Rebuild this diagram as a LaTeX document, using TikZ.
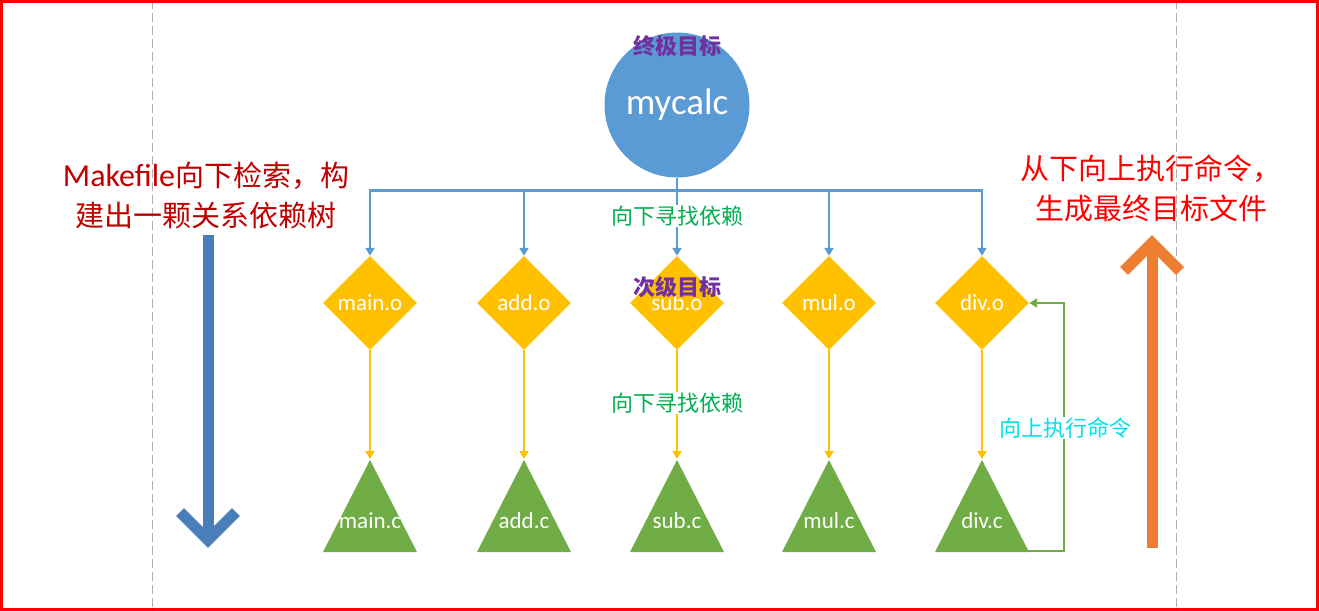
\documentclass[tikz,border=0pt]{standalone}
\usepackage{fontspec}
\setmainfont{Carlito}
\newfontfamily\cjk{Noto Sans CJK SC}
\usetikzlibrary{arrows.meta,shapes.geometric}
\definecolor{GoalBlue}{RGB}{91,155,213}
\definecolor{ArrowBlue}{RGB}{74,126,187}
\definecolor{ObjGold}{RGB}{255,192,0}
\definecolor{SrcGreen}{RGB}{112,173,71}
\definecolor{TextGreen}{RGB}{0,176,80}
\definecolor{TagPurple}{RGB}{112,48,160}
\definecolor{DarkRed}{RGB}{192,0,0}
\definecolor{CmdCyan}{RGB}{0,225,235}
\definecolor{UpOrange}{RGB}{237,125,49}
\definecolor{GuideGray}{RGB}{175,175,175}
\tikzset{
  goal/.style={circle,fill=GoalBlue,text=white,minimum size=145pt,
    inner sep=0pt,font=\fontsize{37pt}{40pt}\selectfont},
  target/.style={diamond,aspect=1,fill=ObjGold,text=white,minimum width=94pt,
    minimum height=94pt,inner sep=0pt,font=\fontsize{23pt}{26pt}\selectfont},
  source/.style={text=white,inner sep=0pt,font=\fontsize{23pt}{26pt}\selectfont},
  tag/.style={text=TagPurple,inner sep=0pt,font=\cjk\bfseries\fontsize{22pt}{26pt}\selectfont},
  note/.style={fill=white,inner sep=1pt,font=\cjk\fontsize{22pt}{26pt}\selectfont},
  side/.style={align=center,inner sep=0pt,font=\cjk\fontsize{29pt}{40pt}\selectfont},
  link/.style={GoalBlue,line width=2.7pt,-{Triangle[width=9pt,length=8pt]}},
  build/.style={ObjGold,line width=2.4pt,-{Triangle[width=9pt,length=8pt]}},
  back/.style={SrcGreen,line width=2pt,-{Triangle[width=9pt,length=8pt]}},
  bigarrow/.style={line width=11pt,line join=miter}
}
\begin{document}
\begin{tikzpicture}[x=1pt,y=-1pt]
  \useasboundingbox (0,0) rectangle (1319,611);
  % guides and frame
  \draw[GuideGray,dash pattern=on 9pt off 4pt] (152,0) -- (152,611);
  \draw[GuideGray,dash pattern=on 9pt off 4pt] (1176,0) -- (1176,611);
  \draw[red,line width=2.5pt] (1.5,1.5) rectangle (1317.5,609.5);

  % final target
  \node[goal] (mycalc) at (677,105) {mycalc};
  \node[tag] (finaltag) at (677,46) {终极目标};

  % object files
  \node[target] (maino) at (370,303) {main.o};
  \node[target] (addo) at (524,303) {add.o};
  \node[target] (subo) at (677,303) {sub.o};
  \node[target] (mulo) at (829,303) {mul.o};
  \node[target] (divo) at (982,303) {div.o};
  \node[tag] (subtag) at (677,287) {次级目标};

  % source files
  \fill[SrcGreen] (370,460) -- (323,552) -- (417,552) -- cycle;
  \fill[SrcGreen] (524,460) -- (477,552) -- (571,552) -- cycle;
  \fill[SrcGreen] (677,460) -- (630,552) -- (724,552) -- cycle;
  \fill[SrcGreen] (829,460) -- (782,552) -- (876,552) -- cycle;
  \fill[SrcGreen] (982,460) -- (935,552) -- (1029,552) -- cycle;
  \coordinate (mainc-top) at (370,459);
  \coordinate (addc-top) at (524,459);
  \coordinate (subc-top) at (677,459);
  \coordinate (mulc-top) at (829,459);
  \coordinate (divc-top) at (982,459);
  \coordinate (divc-corner) at (1028,551);
  \node[source] (mainc) at (370,521) {main.c};
  \node[source] (addc) at (524,521) {add.c};
  \node[source] (subc) at (677,521) {sub.c};
  \node[source] (mulc) at (829,521) {mul.c};
  \node[source] (divc) at (982,521) {div.c};

  % looking down for dependencies
  \draw[link] (mycalc.south) -- ++(0,13) -| (maino.north);
  \draw[link] (mycalc.south) -- ++(0,13) -| (addo.north);
  \draw[link] (mycalc.south) -- (subo.north);
  \draw[link] (mycalc.south) -- ++(0,13) -| (mulo.north);
  \draw[link] (mycalc.south) -- ++(0,13) -| (divo.north);
  \node[note,text=TextGreen] (finddeps) at (677,216) {向下寻找依赖};
  \draw[build] (maino.south) -- (mainc-top);
  \draw[build] (addo.south) -- (addc-top);
  \draw[build] (subo.south) -- (subc-top);
  \draw[build] (mulo.south) -- (mulc-top);
  \draw[build] (divo.south) -- (divc-top);
  \node[note,text=TextGreen] (findsrcs) at (677,403) {向下寻找依赖};

  % running commands upward
  \draw[back] (divc-corner) -- ++(36,0) |- (divo.east);
  \node[note,text=CmdCyan] (runcmd) at (1065,428) {向上执行命令};

  % side notes
  \node[side,text=DarkRed] (searchnote) at (206,195)
    {{\rmfamily\fontsize{32pt}{40pt}\selectfont Makefile}向下检索，构\\建出一颗关系依赖树};
  \node[side,text=red] (buildnote) at (1151,188)
    {从下向上执行命令，\\生成最终目标文件};
  \coordinate (downstart) at (208,235);
  \coordinate (downend) at (208,540);
  \draw[bigarrow,ArrowBlue] (downstart) -- (downend);
  \draw[bigarrow,ArrowBlue] (downend) ++(-28,-28) -- (downend) -- ++(28,-28);
  \coordinate (upstart) at (1152,548);
  \coordinate (upend) at (1152,243);
  \draw[bigarrow,UpOrange] (upstart) -- (upend);
  \draw[bigarrow,UpOrange] (upend) ++(-28,28) -- (upend) -- ++(28,28);
\end{tikzpicture}
\end{document}
